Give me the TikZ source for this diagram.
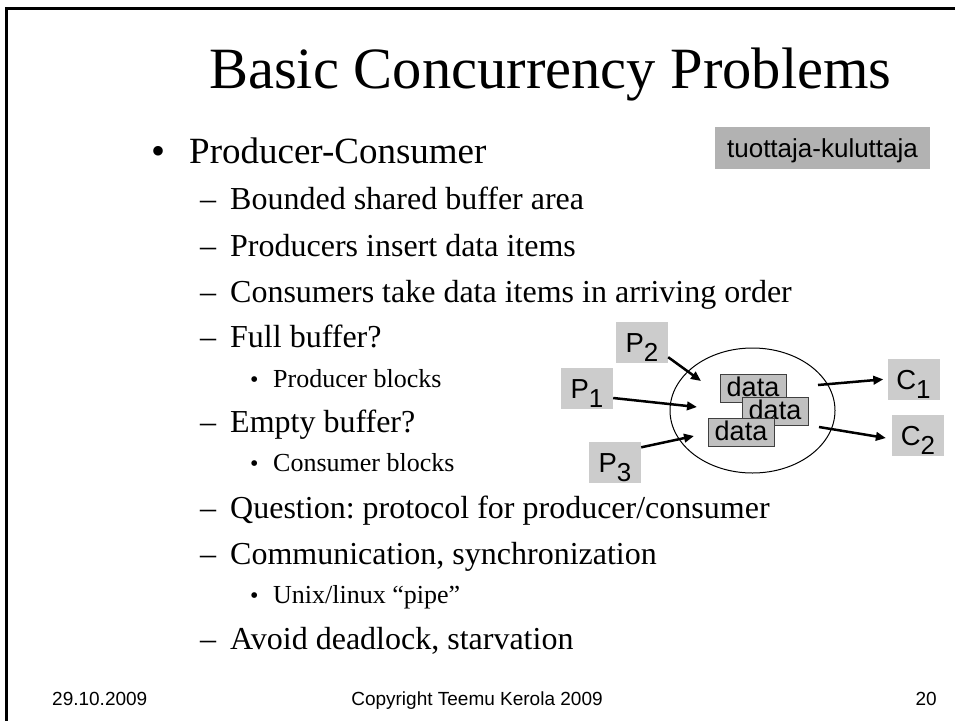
\documentclass[tikz,border=0pt]{standalone}
\usepackage{fontspec}
\setmainfont{Liberation Serif}
\newfontfamily\arial{Liberation Sans}
\usetikzlibrary{arrows.meta,shapes.geometric}
\frenchspacing
\definecolor{pbox}{HTML}{CCCCCC}
\definecolor{dbox}{HTML}{C0C0C0}
\definecolor{tbox}{HTML}{B2B2B2}
\tikzset{
  titletext/.style={anchor=base west, inner sep=0pt, font=\fontsize{58.5}{60}\selectfont},
  lone/.style={anchor=base west, inner sep=0pt, font=\fontsize{37}{40}\selectfont},
  ltwo/.style={anchor=base west, inner sep=0pt, font=\fontsize{32}{34}\selectfont},
  lthree/.style={anchor=base west, inner sep=0pt, font=\fontsize{26}{28}\selectfont},
  foot/.style={anchor=base, inner sep=0pt, font=\arial\fontsize{19}{20}\selectfont},
  proc/.style={fill=pbox, inner sep=0pt, minimum width=52pt, minimum height=41pt,
    text height=20pt, text depth=0pt, font=\arial\fontsize{27.5}{28}\selectfont},
  databox/.style={fill=dbox, draw=black!75, line width=0.8pt, inner sep=0pt,
    minimum width=66pt, minimum height=28pt, text height=18pt, text depth=2pt,
    font=\arial\fontsize{27}{27}\selectfont},
  buffer/.style={draw, ellipse, line width=1pt, inner sep=0pt, minimum width=165pt, minimum height=125pt},
  flow/.style={line width=2.5pt, -{Triangle[length=10pt,width=8.5pt]}},
  labelbox/.style={fill=tbox, inner sep=0pt, minimum width=215pt, minimum height=42pt,
    text height=18.6pt, text depth=0pt, font=\arial\fontsize{26}{28}\selectfont},
}
\newcommand{\sub}[1]{\raisebox{-9pt}{\fontsize{26}{26}\selectfont #1}}
\begin{document}
\begin{tikzpicture}[x=1pt,y=-1pt]
\useasboundingbox (0,0) rectangle (955,720);
% frame
\draw[line width=3pt] (6.5,730) -- (6.5,8.7) -- (965,8.7);
% title
\node[titletext] (title) at (209,88) {Basic Concurrency Problems};
% level 1
\node[lone, font=\fontsize{40}{40}\selectfont] (b1) at (151,164) {•};
\node[lone] (t1) at (189,163) {Producer-Consumer};
\node[labelbox] (fi) at (822.5,148) {tuottaja-kuluttaja};
% level 2 / 3 items
\node[ltwo] (d2a) at (200,209) {–};
\node[ltwo] (t2a) at (230,209) {Bounded shared buffer area};
\node[ltwo] (d2b) at (200,256) {–};
\node[ltwo] (t2b) at (230,256) {Producers insert data items};
\node[ltwo] (d2c) at (200,302) {–};
\node[ltwo] (t2c) at (230,302) {Consumers take data items in arriving order};
\node[ltwo] (d2d) at (200,347) {–};
\node[ltwo] (t2d) at (230,347) {Full buffer?};
\node[lthree, font=\fontsize{24}{24}\selectfont] (b3a) at (250,387) {•};
\node[lthree] (t3a) at (273,387) {Producer blocks};
\node[ltwo] (d2e) at (200,432) {–};
\node[ltwo] (t2e) at (230,432) {Empty buffer?};
\node[lthree, font=\fontsize{24}{24}\selectfont] (b3b) at (250,471) {•};
\node[lthree] (t3b) at (273,471) {Consumer blocks};
\node[ltwo] (d2f) at (200,518) {–};
\node[ltwo] (t2f) at (230,518) {Question: protocol for producer/consumer};
\node[ltwo] (d2g) at (200,564) {–};
\node[ltwo] (t2g) at (230,564) {Communication, synchronization};
\node[lthree, font=\fontsize{24}{24}\selectfont] (b3c) at (250,603) {•};
\node[lthree] (t3c) at (273,603) {Unix/linux “pipe”};
\node[ltwo] (d2h) at (200,649) {–};
\node[ltwo] (t2h) at (230,649) {Avoid deadlock, starvation};
% footer
\node[foot, anchor=base west] (date) at (52,705) {29.10.2009};
\node[foot] (copy) at (477,705) {Copyright Teemu Kerola 2009};
\node[foot, anchor=base east] (page) at (937,705) {20};
% diagram
\node[buffer] (buf) at (752.5,410.5) {};
\node[databox] (da) at (753,388) {data};
\node[databox] (db) at (775,411) {data};
\node[databox] (dc) at (741,432.5) {data};
\node[proc] (p2) at (642,342.5) {P\sub{2}};
\node[proc] (p1) at (587,388) {P\sub{1}};
\node[proc] (p3) at (615,462) {P\sub{3}};
\node[proc] (c1) at (913.5,379) {C\sub{1}};
\node[proc] (c2) at (918,435) {C\sub{2}};
\coordinate (in2) at (701,381);
\coordinate (in1) at (697,407);
\coordinate (in3) at (694,436);
\coordinate (out1) at (818,385);
\coordinate (out2) at (819,427);
\draw[flow] ([yshift=6pt]p2.south east) -- (in2);
\draw[flow] ([yshift=-10pt]p1.east) -- (in1);
\draw[flow] ([yshift=-6pt]p3.north east) -- (in3);
\draw[flow, shorten >=4pt] (out1) -- (c1.west);
\draw[flow, shorten >=6pt] (out2) -- ([yshift=-4pt]c2.west);
\end{tikzpicture}
\end{document}
